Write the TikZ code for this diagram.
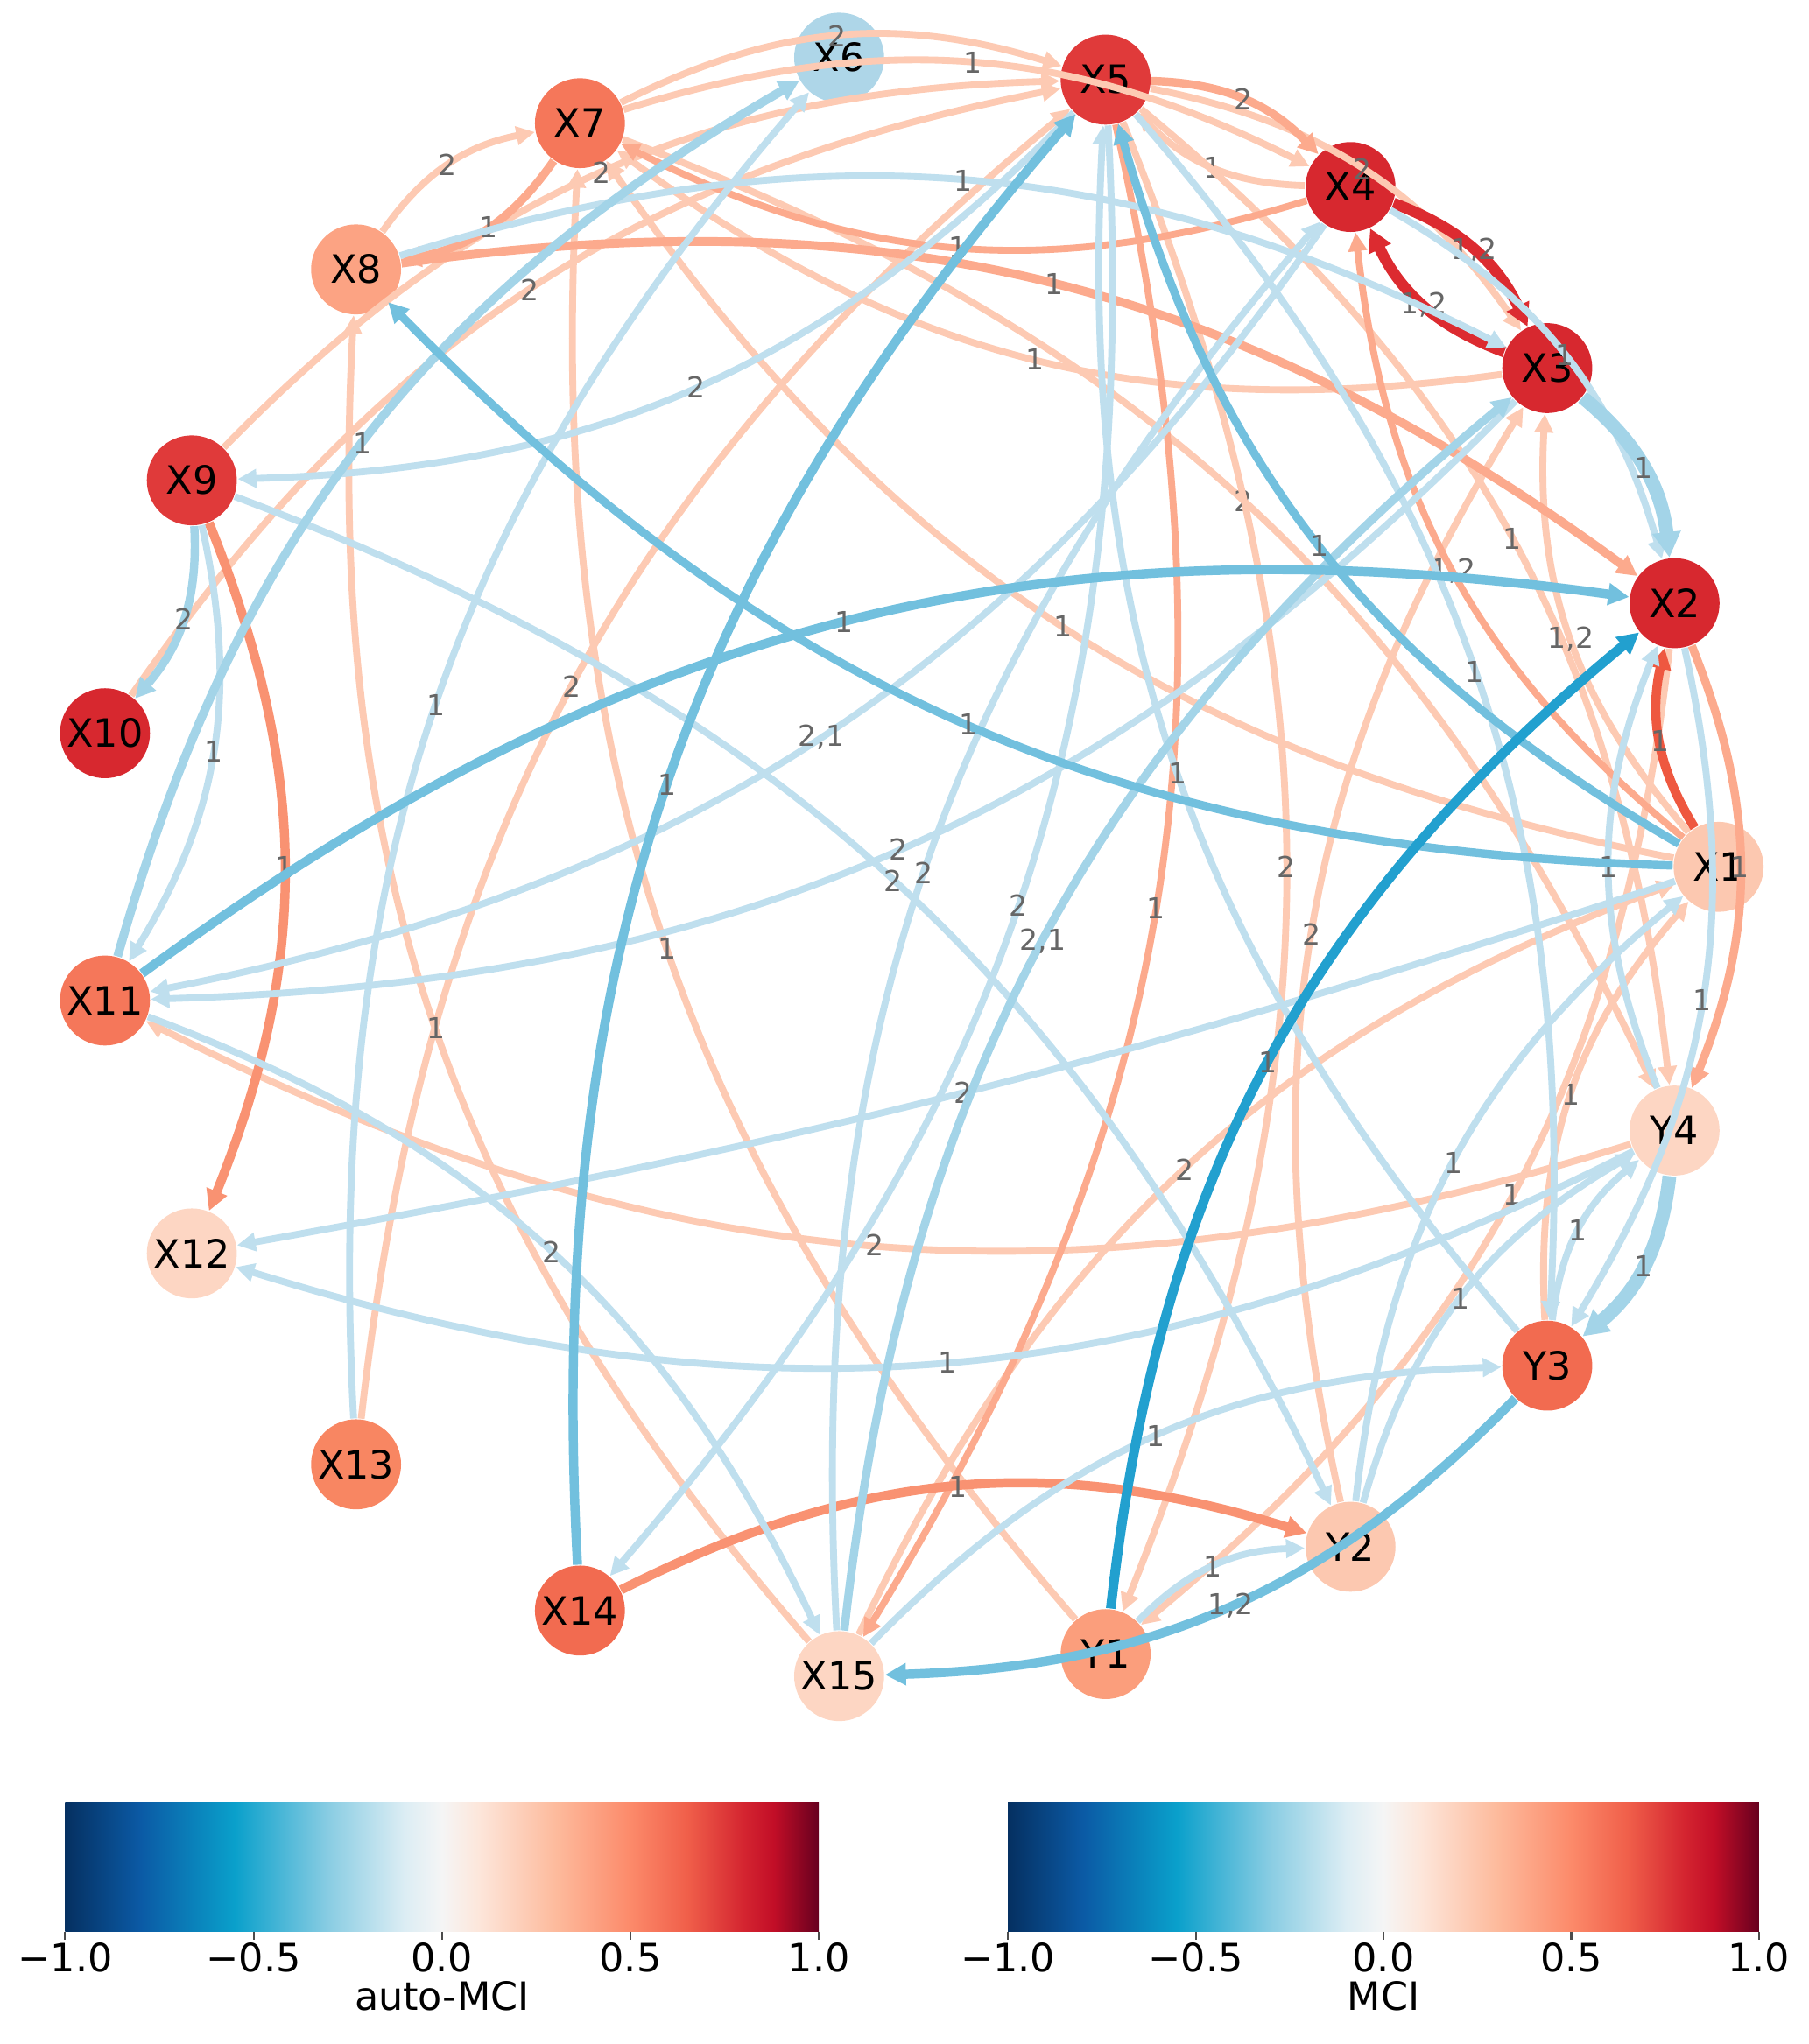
\documentclass[tikz,border=0pt]{standalone}
\usepackage{fontspec}
\setmainfont{DejaVu Sans}
\usetikzlibrary{arrows.meta, positioning}
% node colours (auto-MCI)
\definecolor{McRed}{HTML}{D7282F}
\definecolor{McRedLight}{HTML}{E03A3A}
\definecolor{McTomato}{HTML}{F26B50}
\definecolor{McCoral}{HTML}{F5775A}
\definecolor{McCoralLight}{HTML}{F88662}
\definecolor{McSalmon}{HTML}{FCA383}
\definecolor{McLightSalmon}{HTML}{FB9E7C}
\definecolor{McPeach}{HTML}{FCC8B0}
\definecolor{McPalePeach}{HTML}{FDD6C3}
\definecolor{McIce}{HTML}{AED6E8}
% link colours (MCI)
\definecolor{PaleOrange}{HTML}{FDCAB3}
\definecolor{Salmon}{HTML}{FCAA8D}
\definecolor{Coral}{HTML}{F99272}
\definecolor{DeepRed}{HTML}{DC2B30}
\definecolor{RedOrange}{HTML}{EE5840}
\definecolor{PaleBlue}{HTML}{BFDFEE}
\definecolor{SkyBlue}{HTML}{A3D4E8}
\definecolor{MidBlue}{HTML}{72C0DE}
\definecolor{DeepCyan}{HTML}{22A0CF}
% colour map stops
\definecolor{cm0}{HTML}{053061}
\definecolor{cm1}{HTML}{0B5AA5}
\definecolor{cm2}{HTML}{0AA0CB}
\definecolor{cm3}{HTML}{8ACDE3}
\definecolor{cm4}{HTML}{DCEDF4}
\definecolor{cm5}{HTML}{F5F5F5}
\definecolor{cm6}{HTML}{FDE6DA}
\definecolor{cm7}{HTML}{FDBB9D}
\definecolor{cm8}{HTML}{FC8A6A}
\definecolor{cm9}{HTML}{F05F4A}
\definecolor{cm10}{HTML}{D42530}
\definecolor{cm11}{HTML}{C20E27}
\definecolor{cm12}{HTML}{67001F}
\pgfdeclarehorizontalshading{rdbu}{100bp}{color(0bp)=(cm0); color(25bp)=(cm0); color(30bp)=(cm1); color(36.25bp)=(cm2); color(42.5bp)=(cm3); color(47.5bp)=(cm4); color(50bp)=(cm5); color(52.5bp)=(cm6); color(57.5bp)=(cm7); color(62.5bp)=(cm8); color(66.25bp)=(cm9); color(70bp)=(cm10); color(72bp)=(cm11); color(75bp)=(cm12); color(100bp)=(cm12)}

\begin{document}
\begin{tikzpicture}[
  var/.style={circle, minimum size=6.9mm, inner sep=0pt, font=\fontsize{8.5}{10}\selectfont},
  link/.style={-{Triangle[length=0.9mm 1, width=0.7mm 1.3]}, bend left=22, line width=1.5pt},
  lag/.style={font=\fontsize{6.3}{7}\selectfont, text=black!60, inner sep=0.5pt},
  ticklabel/.style={font=\fontsize{8.5}{10}\selectfont}
]
\useasboundingbox (-6.95,-9.03) rectangle (6.92,6.65);

% variables on the circle
\foreach \name/\col [count=\i from 0] in {X1/McPeach, X2/McRed, X3/McRed, X4/McRed, X5/McRedLight,
    X6/McIce, X7/McCoral, X8/McSalmon, X9/McRedLight, X10/McRed, X11/McCoral, X12/McPalePeach,
    X13/McCoralLight, X14/McTomato, X15/McPalePeach, Y1/McLightSalmon, Y2/McPeach, Y3/McTomato, Y4/McPalePeach}
  \node[var, fill=\col] (\name) at ({\i*360/19}:6.23) {\name};

% positive links
\draw[link, PaleOrange] (X7) to node[lag]{2} (X5);
\draw[link, PaleOrange] (X7) to node[lag]{1} (X4);
\draw[link, PaleOrange] (X4) to node[lag]{1} (X5);
\draw[link, PaleOrange] (X8) to node[lag]{2} (X7);
\draw[link, PaleOrange] (X3) to node[lag]{1} (X7);
\draw[link, PaleOrange] (X9) to node[lag]{2} (X5);
\draw[link, PaleOrange] (X10) to node[lag]{2} (X5);
\draw[link, PaleOrange] (X13) to node[lag]{2} (X5);
\draw[link, PaleOrange] (X15) to node[lag]{1} (X8);
\draw[link, PaleOrange] (Y1) to node[lag]{1} (X7);
\draw[link, PaleOrange] (X7) to node[lag]{2} (Y4);
\draw[link, PaleOrange] (X5) to node[lag]{1} (Y4);
\draw[link, PaleOrange] (X1) to node[lag]{1} (X7);
\draw[link, PaleOrange] (X5) to node[lag]{2} (Y1);
\draw[link, PaleOrange] (Y2) to node[lag]{2} (X3);
\draw[link, PaleOrange] (Y3) to node[lag]{1} (X1);
\draw[link, PaleOrange] (X15) to node[lag]{2} (X1);
\draw[link, PaleOrange] (X2) to node[lag]{1} (Y1);
\draw[link, PaleOrange] (Y4) to node[lag]{2} (X11);
\draw[link, PaleOrange] (X5) to node[lag]{2} (X3);
\draw[link, PaleOrange] (X1) to node[lag]{1,2} (X3);
\draw[link, Salmon] (X1) to node[lag]{1,2} (X4);
\draw[link, Salmon] (X5) to node[lag]{1} (X15);
\draw[link, Salmon, line width=1.8pt] (X5) to node[lag]{2} (X4);
\draw[link, Salmon, line width=1.8pt] (X7) to node[lag]{1} (X8);
\draw[link, Salmon] (X4) to node[lag]{1} (X7);
\draw[link, Salmon, line width=1.9pt] (X8) to node[lag]{1} (X2);
\draw[link, Salmon, line width=1.8pt] (X2) to node[lag]{1} (Y4);
\draw[link, Coral, line width=2pt] (X14) to node[lag]{1} (Y2);
\draw[link, Coral, line width=2pt] (X9) to node[lag]{1} (X12);
\draw[link, DeepRed, line width=2.4pt] (X4) to node[lag]{1,2} (X3);
\draw[link, DeepRed, line width=2.4pt] (X3) to node[lag]{1,2} (X4);
\draw[link, RedOrange, line width=2pt] (X1) to node[lag]{1} (X2);

% negative links
\draw[link, PaleBlue] (X8) to node[lag]{1} (X3);
\draw[link, PaleBlue] (X13) to node[lag]{1} (X6);
\draw[link, PaleBlue] (X9) to node[lag]{1} (X11);
\draw[link, PaleBlue] (X4) to node[lag]{2,1} (X11);
\draw[link, PaleBlue] (X3) to node[lag]{2} (X11);
\draw[link, PaleBlue] (X5) to node[lag]{2} (X9);
\draw[link, PaleBlue] (X9) to node[lag]{2} (Y2);
\draw[link, PaleBlue] (X5) to node[lag]{1} (Y3);
\draw[link, PaleBlue] (Y3) to node[lag]{1} (X5);
\draw[link, PaleBlue] (X15) to node[lag]{2} (X4);
\draw[link, PaleBlue] (X5) to node[lag]{2} (X14);
\draw[link, PaleBlue] (X11) to node[lag]{2} (X15);
\draw[link, PaleBlue] (Y2) to node[lag]{1} (X1);
\draw[link, PaleBlue] (Y4) to node[lag]{1} (X2);
\draw[link, PaleBlue] (X2) to node[lag]{1} (Y3);
\draw[link, PaleBlue] (Y4) to node[lag]{1} (X12);
\draw[link, PaleBlue, bend left=4] (X1) to node[lag]{2} (X12);
\draw[link, PaleBlue] (Y3) to node[lag]{1} (Y4);
\draw[link, PaleBlue] (Y1) to node[lag]{1} (Y2);
\draw[link, PaleBlue] (Y2) to node[lag]{1} (Y4);
\draw[link, PaleBlue] (X15) to node[lag]{1} (Y3);
\draw[link, PaleBlue] (X4) to node[lag]{1} (X2);
\draw[link, SkyBlue, line width=1.9pt] (X11) to node[lag]{1} (X6);
\draw[link, SkyBlue, line width=1.8pt] (X9) to node[lag]{2} (X10);
\draw[link, SkyBlue, line width=1.8pt] (X15) to node[lag]{2,1} (X3);
\draw[link, SkyBlue, line width=3pt] (X3) to node[lag]{1} (X2);
\draw[link, SkyBlue, line width=3pt] (Y4) to node[lag]{1} (Y3);
\draw[link, MidBlue, line width=2pt] (X11) to node[lag]{1} (X2);
\draw[link, MidBlue, line width=1.8pt] (X1) to node[lag]{1} (X8);
\draw[link, MidBlue, line width=1.8pt] (X1) to node[lag]{1} (X5);
\draw[link, MidBlue, line width=2pt] (X14) to node[lag]{1} (X5);
\draw[link, MidBlue, line width=2pt] (Y3) to node[lag]{1,2} (X15);
\draw[link, DeepCyan, line width=2.1pt] (Y1) to node[lag]{1} (X2);

% colour bars
\shade[shading=rdbu] (-6.45,-8.17) rectangle (-0.67,-7.18);
\shade[shading=rdbu] (0.78,-8.17) rectangle (6.54,-7.18);
\foreach \t [count=\k from 0] in {−1.0, −0.5, 0.0, 0.5, 1.0} {
  \draw[black!70, line width=0.4pt] (-6.45+1.445*\k,-8.17) -- ++(0,-0.06);
  \node[ticklabel] (ta\k) at (-6.45+1.445*\k,-8.37) {\t};
  \draw[black!70, line width=0.4pt] (0.78+1.44*\k,-8.17) -- ++(0,-0.06);
  \node[ticklabel] (tb\k) at (0.78+1.44*\k,-8.37) {\t};
}
\node[ticklabel] (autolabel) at (-3.56,-8.66) {auto-MCI};
\node[ticklabel] (crosslabel) at (3.66,-8.66) {MCI};
\end{tikzpicture}
\end{document}
